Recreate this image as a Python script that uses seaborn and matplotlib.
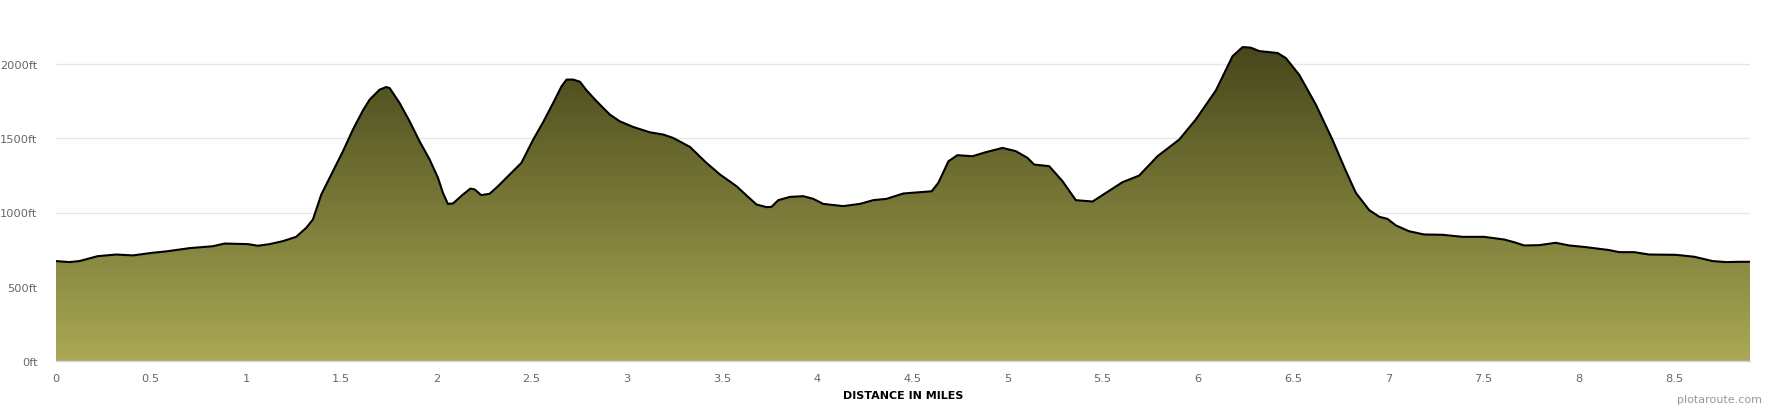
import numpy as np
import pandas as pd
import seaborn as sns
import matplotlib.pyplot as plt
from matplotlib.colors import LinearSegmentedColormap

# Profil d'altitude (miles, pieds)
distance_mi = [0.0, 0.074, 0.126, 0.222, 0.319, 0.406, 0.511, 0.581, 0.704, 0.827,
               0.888, 1.011, 1.063, 1.124, 1.194, 1.264, 1.317, 1.352, 1.396, 1.457,
               1.51, 1.562, 1.615, 1.65, 1.702, 1.737, 1.755, 1.807, 1.86, 1.912,
               1.965, 2.009, 2.035, 2.061, 2.088, 2.14, 2.179, 2.202, 2.236, 2.28,
               2.324, 2.386, 2.447, 2.509, 2.561, 2.614, 2.658, 2.684, 2.719, 2.754,
               2.789, 2.842, 2.912, 2.964, 3.034, 3.122, 3.192, 3.244, 3.332, 3.419,
               3.49, 3.577, 3.63, 3.682, 3.735, 3.761, 3.796, 3.857, 3.927, 3.98,
               4.032, 4.137, 4.225, 4.295, 4.365, 4.453, 4.54, 4.602, 4.637, 4.69,
               4.737, 4.816, 4.886, 4.974, 5.044, 5.105, 5.14, 5.219, 5.289, 5.359,
               5.447, 5.517, 5.604, 5.692, 5.788, 5.902, 5.989, 6.095, 6.182, 6.235,
               6.278, 6.322, 6.419, 6.462, 6.532, 6.62, 6.708, 6.778, 6.83, 6.9,
               6.953, 6.996, 7.04, 7.109, 7.188, 7.285, 7.39, 7.504, 7.609, 7.661,
               7.714, 7.792, 7.88, 7.95, 8.037, 8.16, 8.213, 8.292, 8.37, 8.51,
               8.607, 8.703, 8.774, 8.844, 8.9]
elevation_ft = [673, 666, 673, 706, 717, 711, 729, 738, 760, 773,
                791, 787, 776, 787, 807, 836, 897, 953, 1121, 1278,
                1413, 1558, 1688, 1760, 1827, 1845, 1838, 1738, 1614, 1480,
                1357, 1233, 1132, 1058, 1061, 1121, 1161, 1155, 1117, 1126,
                1177, 1256, 1334, 1491, 1608, 1738, 1850, 1895, 1895, 1881,
                1823, 1749, 1659, 1614, 1576, 1540, 1525, 1502, 1442, 1334,
                1256, 1177, 1114, 1054, 1036, 1038, 1083, 1105, 1110, 1092,
                1058, 1043, 1058, 1083, 1092, 1128, 1137, 1143, 1200, 1345,
                1386, 1379, 1406, 1435, 1413, 1368, 1323, 1312, 1211, 1083,
                1074, 1132, 1204, 1249, 1379, 1491, 1626, 1823, 2052, 2114,
                2110, 2087, 2074, 2040, 1928, 1726, 1487, 1278, 1132, 1016,
                971, 957, 913, 874, 852, 850, 836, 836, 818, 800,
                778, 780, 796, 778, 767, 747, 733, 733, 717, 715,
                702, 673, 666, 668, 668]

x_ticks = [0, 0.5, 1, 1.5, 2, 2.5, 3, 3.5, 4, 4.5, 5, 5.5, 6, 6.5, 7, 7.5, 8, 8.5]
x_tick_labels = ['0', '0.5', '1', '1.5', '2', '2.5', '3', '3.5', '4', '4.5',
                 '5', '5.5', '6', '6.5', '7', '7.5', '8', '8.5']
y_ticks = [0, 500, 1000, 1500, 2000]
y_tick_labels = ['0ft', '500ft', '1000ft', '1500ft', '2000ft']

df = pd.DataFrame({'distance': distance_mi, 'elevation': elevation_ft})

sns.set_style('white')
plt.rcParams['font.family'] = ['DejaVu Sans']

fig = plt.figure(figsize=(17.7, 4.1), dpi=100)
ax = fig.add_axes([55.5 / 1770, 48 / 410, (1750 - 55.5) / 1770, 2.4 * 148.5 / 410])

x_max = distance_mi[-1]
y_top = 2400
ax.set_xlim(0, x_max)
ax.set_ylim(0, y_top)

# Remplissage en dégradé, découpé par la surface sous la courbe
fill = ax.fill_between(df['distance'], df['elevation'], 0, color='none', lw=0)
cmap = LinearSegmentedColormap.from_list('olive', ['#aaa955', '#47471b'])
grad = np.linspace(0, 1, 256).reshape(-1, 1)
peak = max(elevation_ft)
img = ax.imshow(grad, cmap=cmap, aspect='auto', origin='lower',
                extent=[0, x_max, 0, peak], zorder=2)
img.set_clip_path(fill.get_paths()[0], transform=ax.transData)

sns.lineplot(data=df, x='distance', y='elevation', ax=ax, color='black',
             linewidth=1.5, zorder=3, sort=False)

# Grille et axes façon Highcharts
for yv in y_ticks[1:]:
    ax.axhline(yv, color='#e6e6e6', linewidth=1, zorder=1)

for side in ['top', 'right', 'left']:
    ax.spines[side].set_visible(False)
ax.spines['bottom'].set_color('#ccd6eb')
ax.spines['bottom'].set_linewidth(1)
ax.spines['bottom'].set_zorder(4)

ax.set_xticks(x_ticks)
ax.set_xticklabels(x_tick_labels)
ax.set_yticks(y_ticks)
ax.set_yticklabels(y_tick_labels)
ax.tick_params(axis='x', colors='#ccd6eb', length=7, width=1, direction='out',
               labelcolor='#666666', labelsize=8.2, pad=1.5)
ax.tick_params(axis='y', length=0, labelcolor='#666666', labelsize=8.2, pad=13)

ax.set_xlabel('')
ax.set_ylabel('')
fig.text(903 / 1770, 1 - 396 / 410, 'DISTANCE IN MILES', ha='center', va='center',
         fontsize=8, fontweight='bold', color='black')

fig.text(1762 / 1770, 1 - 400 / 410, 'plotaroute.com', ha='right', va='center',
         fontsize=8, color='#999999')

plt.savefig('out.png', dpi=100)
